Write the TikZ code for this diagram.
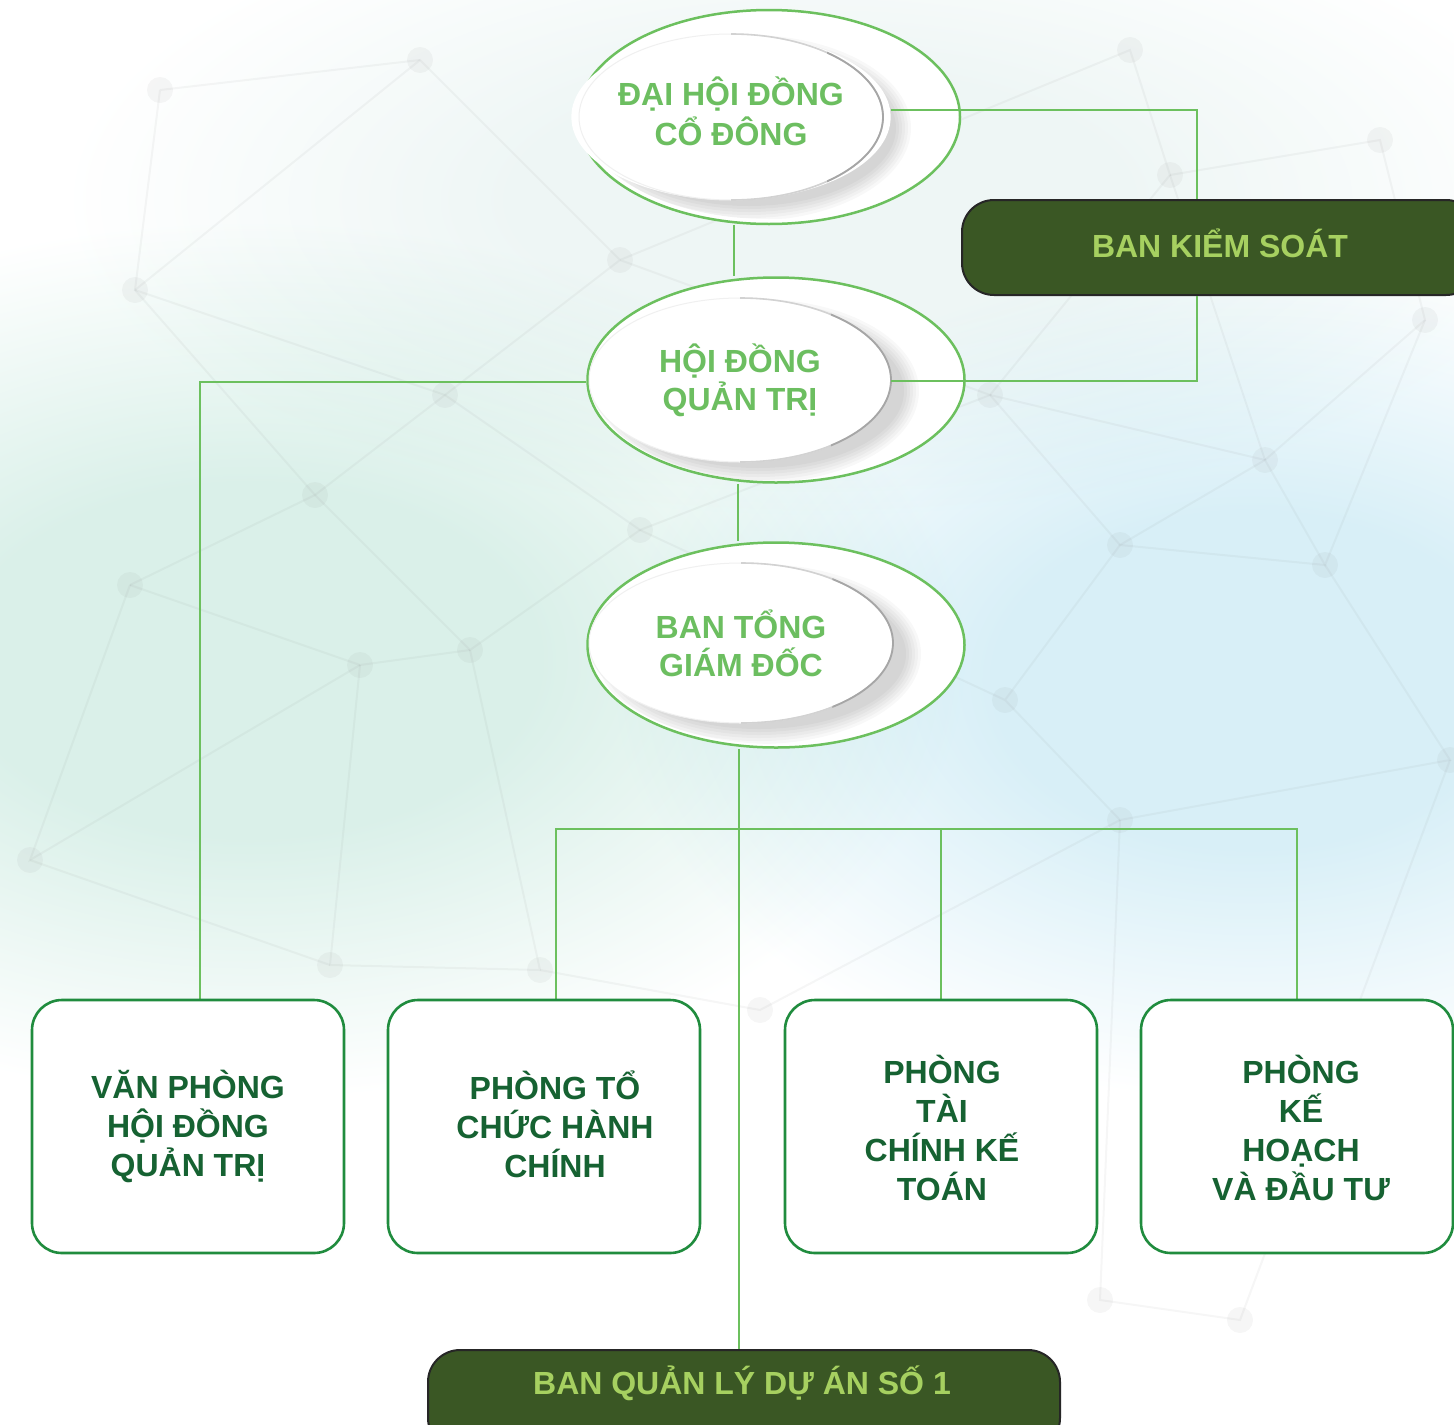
\documentclass[tikz,border=0pt]{standalone}
\usepackage{fontspec}
\setmainfont{Liberation Sans}
\usetikzlibrary{shapes.geometric,calc}
\definecolor{lg}{RGB}{108,192,94}
\definecolor{etext}{RGB}{108,190,96}
\definecolor{dkfill}{RGB}{58,87,36}
\definecolor{dktext}{RGB}{166,208,96}
\definecolor{bxline}{RGB}{32,140,62}
\definecolor{bxtext}{RGB}{22,98,50}
\definecolor{mint}{RGB}{218,240,233}
\definecolor{sky}{RGB}{216,239,247}
\definecolor{pale}{RGB}{238,246,245}
\pgfdeclareradialshading{washmint}{\pgfpoint{0bp}{0bp}}{color(0bp)=(mint); color(10bp)=(mint); color(25bp)=(white); color(50bp)=(white)}
\pgfdeclareradialshading{washsky}{\pgfpoint{0bp}{0bp}}{color(0bp)=(sky); color(10bp)=(sky); color(25bp)=(white); color(50bp)=(white)}
\pgfdeclareradialshading{washpale}{\pgfpoint{0bp}{0bp}}{color(0bp)=(pale); color(10bp)=(pale); color(25bp)=(white); color(50bp)=(white)}
\pgfdeclarelayer{bg}
\pgfdeclarelayer{lines}
\pgfsetlayers{bg,lines,main}
% soft shadow of an inner ellipse, clipped to its outer ellipse
\newcommand\ellshadow[4]{%
  \begin{scope}
    \clip (#2.center) ellipse [x radius=#3+34, y radius=#4+19];
    \foreach \r in {10,7,4,1,-2,-5}
      \fill[black, opacity=0.028] ($(#1.center)+(18,11)$) ellipse [x radius=#3+\r, y radius=#4+\r];
  \end{scope}}
\newcommand\ellrim[3]{%
  \draw[gray!12, line width=0.5pt] (#1.center) ellipse [x radius=#2, y radius=#3];
  \begin{scope}
    \clip (#1.north) rectangle ($(#1.east |- #1.south)+(30,30)$);
    \draw[gray!35, line width=0.8pt] (#1.center) ellipse [x radius=#2, y radius=#3];
  \end{scope}
  \begin{scope}
    \clip ($(#1.north)!0.6!(#1.north -| #1.east)$) rectangle ($(#1.east |- #1.south)+(30,30)$);
    \draw[gray!70, line width=0.9pt] (#1.center) ellipse [x radius=#2, y radius=#3];
  \end{scope}}
\begin{document}
\begin{tikzpicture}[x=0.5pt,y=-0.5pt,
  outerell/.style={ellipse, draw=lg, line width=1.25pt, fill=white, inner sep=0pt},
  innerell/.style={ellipse, fill=white, inner sep=0pt, text=etext,
    font=\bfseries\fontsize{16}{19}\selectfont, align=center},
  darkbox/.style={rounded corners=16pt, draw=black!85, line width=1pt, fill=dkfill,
    text=dktext, font=\bfseries\fontsize{16}{19}\selectfont, inner sep=0pt},
  unitbox/.style={rounded corners=15pt, draw=bxline, line width=1.3pt, fill=white,
    text=bxtext, font=\bfseries\fontsize{16}{19.4}\selectfont, align=center,
    minimum width=156pt, minimum height=126.5pt, inner sep=0pt},
  boxtext/.style={text=bxtext, font=\bfseries\fontsize{16}{19.4}\selectfont, align=center, inner sep=0pt},
  link/.style={draw=lg, line width=1.25pt},
  wash/.style={blend mode=multiply},
  net/.style={draw=gray, opacity=0.07, line width=1pt},
  dot/.style={fill=gray, opacity=0.07}]
\useasboundingbox (0,0) rectangle (1454,1424);

% ---------- background ----------
\begin{pgfonlayer}{bg}
  \fill[white] (0,0) rectangle (1454,1424);
  \shade[wash, shading=washpale] (820,200) ellipse [x radius=760, y radius=320];
  \shade[wash, shading=washmint] (250,660) ellipse [x radius=720, y radius=440];
  \shade[wash, shading=washsky] (1250,680) ellipse [x radius=640, y radius=420];
  \draw[net] (160,90) -- (420,60) -- (620,260) -- (445,395) -- (135,290) -- (160,90);
  \draw[net] (420,60) -- (135,290);
  \draw[net] (620,260) -- (990,395) -- (1170,175) -- (1130,50) -- (620,260);
  \draw[net] (1170,175) -- (1380,140) -- (1425,320) -- (1265,460) -- (990,395);
  \draw[net] (1170,175) -- (1265,460);
  \draw[net] (135,290) -- (315,495) -- (445,395) -- (640,530) -- (990,395) -- (1120,545) -- (1265,460) -- (1325,565) -- (1425,320);
  \draw[net] (130,585) -- (315,495) -- (470,650) -- (640,530);
  \draw[net] (130,585) -- (360,665) -- (470,650);
  \draw[net] (360,665) -- (30,860) -- (130,585);
  \draw[net] (360,665) -- (330,965) -- (540,970) -- (470,650);
  \draw[net] (640,530) -- (1005,700) -- (1120,545) -- (1325,565) -- (1450,760) -- (1120,820) -- (1005,700);
  \draw[net] (1120,820) -- (760,1010) -- (540,970);
  \draw[net] (30,860) -- (330,965);
  \draw[net] (1120,820) -- (1100,1300) -- (1240,1320) -- (1450,760);
  \foreach \p in {(160,90),(420,60),(620,260),(1130,50),(1380,140),(1170,175),(135,290),(445,395),(990,395),(1265,460),(1425,320),(315,495),(640,530),(1120,545),(1325,565),(130,585),(360,665),(470,650),(1005,700),(30,860),(330,965),(540,970),(760,1010),(1120,820),(1450,760),(1240,1320),(1100,1300)}
    \fill[dot] \p circle (13);
\end{pgfonlayer}

% ---------- ellipses ----------
\node[outerell, minimum width=191pt, minimum height=107pt] (e1o) at (769,117) {};
\coordinate (e1c) at (731,117);
\ellshadow{e1c}{e1o}{152}{83}
\node[innerell, minimum width=152pt, minimum height=83pt] (e1i) at (e1c) {\raisebox{5pt}{\begin{tabular}{@{}c@{}}ĐẠI HỘI ĐỒNG\\CỔ ĐÔNG\end{tabular}}};
\ellrim{e1i}{76pt}{41.5pt}

\node[outerell, minimum width=188.5pt, minimum height=102.5pt] (e2o) at (776,380) {};
\coordinate (e2c) at (740,380);
\ellshadow{e2c}{e2o}{151}{82}
\node[innerell, minimum width=151pt, minimum height=82pt] (e2i) at (e2c) {HỘI ĐỒNG\\QUẢN TRỊ};
\ellrim{e2i}{75.5pt}{41pt}

\node[outerell, minimum width=188.5pt, minimum height=102.5pt] (e3o) at (776,645) {};
\coordinate (e3c) at (741,643);
\ellshadow{e3c}{e3o}{152}{80}
\node[innerell, minimum width=152pt, minimum height=80pt] (e3i) at (e3c) {BAN TỔNG\\GIÁM ĐỐC};
\ellrim{e3i}{76pt}{40pt}

% ---------- dark boxes ----------
\node[darkbox, minimum width=258pt, minimum height=47.5pt, text height=11.5pt, text depth=1.2pt] (bks) at (1220,247.5) {BAN KIỂM SOÁT};
\node[darkbox, minimum width=316pt, minimum height=50pt] (bq) at (744,1400) {};
\node[text=dktext, font=\bfseries\fontsize{16}{19}\selectfont, inner sep=0pt] (bqt) at (742,1383) {BAN QUẢN LÝ DỰ ÁN SỐ 1};

% ---------- unit boxes ----------
\node[unitbox] (b1) at (188,1126.5) {VĂN PHÒNG\\HỘI ĐỒNG\\QUẢN TRỊ};
\node[unitbox] (b2) at (544,1126.5) {};
\node[boxtext] (b2t) at (555,1124) {PHÒNG TỔ\\CHỨC HÀNH\\CHÍNH};
\node[unitbox] (b3) at (941,1126.5) {};
\node[boxtext] (b3t) at (942,1128) {PHÒNG\\TÀI\\CHÍNH KẾ\\TOÁN};
\node[unitbox] (b4) at (1297,1126.5) {};
\node[boxtext] (b4t) at (1301,1128) {PHÒNG\\KẾ\\HOẠCH\\VÀ ĐẦU TƯ};

% ---------- connectors ----------
\coordinate (v1) at (734,250);
\coordinate (v2) at (738,510);
\coordinate (v3) at (739,800);
\coordinate (k1) at (1197,110);
\coordinate (k2) at (1197,381);
\coordinate (k3) at (200,382);
\coordinate (bl) at (556,829);
\begin{pgfonlayer}{lines}
  \draw[link] (v1 |- e1o.south) -- (v1 |- e2o.north);
  \draw[link] (v2 |- e2o.south) -- (v2 |- e3o.north);
  \draw[link] (v3 |- e3o.south) -- (v3 |- bq.north);
  \draw[link] (k3 -| e2o.west) -- (k3) -- (k3 |- b1.north);
  \draw[link] (bl |- b2.north) -- (bl) -- (bl -| b4.north) -- (b4.north);
  \draw[link] (b3.north |- bl) -- (b3.north);
\end{pgfonlayer}
\draw[link] (k1 -| e1i.east) -- (k1) -- (k1 |- bks.north);
\draw[link] (k2 |- bks.south) -- (k2) -- (k2 -| e2i.east);
\end{tikzpicture}
\end{document}
